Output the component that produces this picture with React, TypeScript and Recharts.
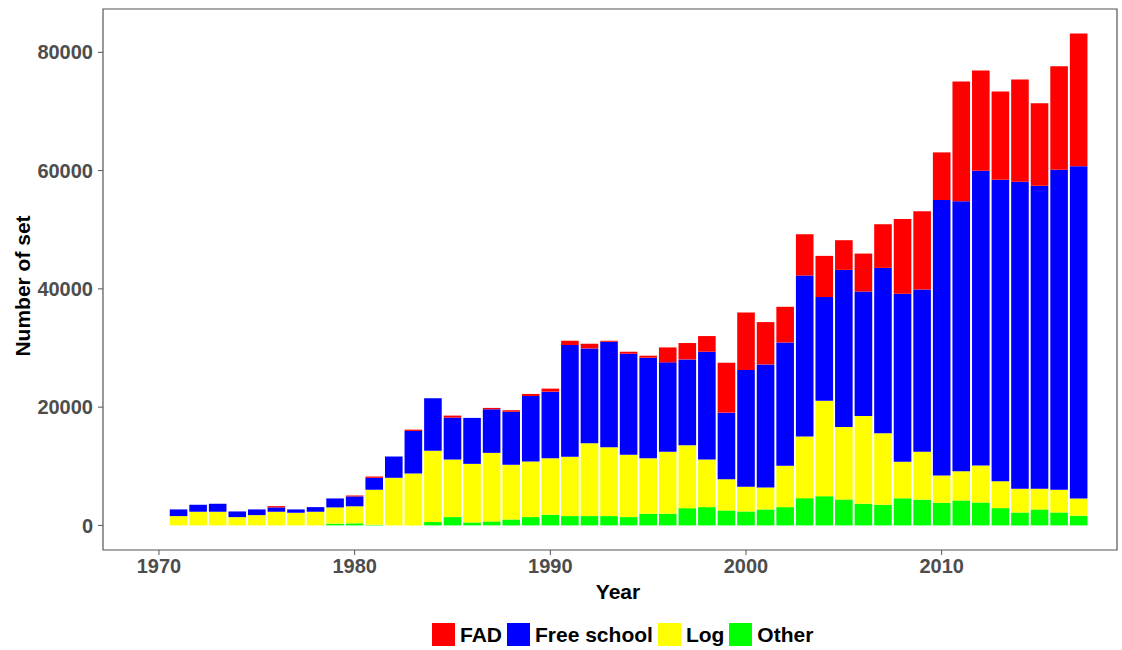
import React from 'react';
import { BarChart, Bar, XAxis, YAxis, ReferenceArea } from 'recharts';

const years = [
  1971, 1972, 1973, 1974, 1975, 1976, 1977, 1978, 1979, 1980,
  1981, 1982, 1983, 1984, 1985, 1986, 1987, 1988, 1989, 1990,
  1991, 1992, 1993, 1994, 1995, 1996, 1997, 1998, 1999, 2000,
  2001, 2002, 2003, 2004, 2005, 2006, 2007, 2008, 2009, 2010,
  2011, 2012, 2013, 2014, 2015, 2016, 2017,
];

const other = [
  0, 0, 0, 0, 0, 0, 0, 0, 300, 350,
  100, 0, 0, 560, 1400, 500, 680, 1010, 1400, 1800,
  1570, 1570, 1570, 1400, 1970, 1970, 2920, 3090, 2530, 2360,
  2700, 3090, 4610, 4950, 4390, 3660, 3490, 4590, 4360, 3830,
  4220, 3880, 2920, 2190, 2700, 2190, 1640,
];

const log = [
  1570, 2310, 2310, 1400, 1740, 2310, 2140, 2310, 2740, 2880,
  5930, 8050, 8780, 12050, 9740, 9910, 11590, 9240, 9400, 9560,
  10030, 12330, 11650, 10530, 9390, 10470, 10630, 8050, 5290, 4190,
  3710, 6990, 10410, 16150, 12270, 14860, 12090, 6160, 8110, 4610,
  4950, 6250, 4560, 4000, 3490, 3830, 2920,
];

const freeSchool = [
  1130, 1180, 1350, 960, 960, 730, 560, 780, 1520, 1670,
  2020, 3600, 7200, 8880, 7090, 7770, 7370, 8990, 11090, 11260,
  18900, 16030, 17840, 17100, 17000, 15130, 14520, 18230, 11250, 19730,
  20820, 20860, 27230, 17510, 26550, 21030, 27970, 28410, 27420, 46590,
  45630, 49850, 50980, 51930, 51250, 54130, 56160,
];

const fad = [
  0, 0, 0, 0, 0, 220, 0, 0, 0, 160,
  220, 0, 220, 0, 340, 0, 230, 230, 340, 510,
  730, 790, 170, 340, 340, 2530, 2770, 2650, 8440, 9720,
  7150, 6030, 6990, 6970, 5020, 6420, 7380, 12660, 13230, 8050,
  20260, 16940, 14910, 17280, 13960, 17500, 22450,
];

const xTicks = [1970, 1980, 1990, 2000, 2010];
const yTicks = [0, 20000, 40000, 60000, 80000];

const xDomain: [number, number] = [1967.14, 2018.96];
const yDomain: [number, number] = [-4160, 87330];

const legendItems = [
  { name: 'FAD', color: '#FF0000' },
  { name: 'Free school', color: '#0000FF' },
  { name: 'Log', color: '#FFFF00' },
  { name: 'Other', color: '#00FF00' },
];

const data = years.map((year, i) => ({
  year,
  other: other[i],
  log: log[i],
  free: freeSchool[i],
  fad: fad[i],
}));

const tickStyle = { fill: '#4d4d4d', fontSize: 20, fontWeight: 'bold' as const };

function YTitle() {
  return (
    <text
      x={22}
      y={286}
      transform="rotate(-90 22 286)"
      textAnchor="middle"
      dominantBaseline="central"
      fontSize={21}
      fontWeight="bold"
      fill="#000"
    >
      Number of set
    </text>
  );
}

function XTitle() {
  return (
    <text x={618} y={591} textAnchor="middle" dominantBaseline="central" fontSize={21} fontWeight="bold" fill="#000">
      Year
    </text>
  );
}

export default function App() {
  return (
    <div style={{ position: 'absolute', left: 0, top: 0, width: 1122, height: 650, background: '#fff', fontFamily: '"Liberation Sans", Arial, sans-serif' }}>
      <BarChart width={1122} height={650} data={data} margin={{ top: 9, right: 5, left: 0, bottom: 0 }} barSize={17.6}>
        <XAxis
          dataKey="year"
          type="number"
          domain={xDomain}
          ticks={xTicks}
          allowDataOverflow
          height={100}
          axisLine={false}
          tickLine={{ stroke: '#555' }}
          tickSize={5}
          tickMargin={4}
          tick={tickStyle}
          label={<XTitle />}
        />
        <YAxis
          type="number"
          domain={yDomain}
          ticks={yTicks}
          allowDataOverflow
          width={103}
          axisLine={false}
          tickLine={{ stroke: '#555' }}
          tickSize={5}
          tickMargin={5}
          tick={tickStyle}
          label={<YTitle />}
        />
        <Bar dataKey="other" stackId="a" fill="#00FF00" isAnimationActive={false} />
        <Bar dataKey="log" stackId="a" fill="#FFFF00" isAnimationActive={false} />
        <Bar dataKey="free" stackId="a" fill="#0000FF" isAnimationActive={false} />
        <Bar dataKey="fad" stackId="a" fill="#FF0000" isAnimationActive={false} />
        <ReferenceArea
          x1={xDomain[0]}
          x2={xDomain[1]}
          y1={yDomain[0]}
          y2={yDomain[1]}
          fill="none"
          stroke="#555"
          strokeWidth={1.2}
          ifOverflow="visible"
        />
      </BarChart>
      <div style={{ position: 'absolute', left: 432, top: 623, display: 'flex', alignItems: 'center', fontSize: 21, fontWeight: 'bold', color: '#000' }}>
        {legendItems.map((item) => (
          <div key={item.name} style={{ display: 'flex', alignItems: 'center', marginRight: 5 }}>
            <span style={{ display: 'inline-block', width: 23, height: 23, background: item.color, marginRight: 5 }} />
            <span style={{ lineHeight: '23px' }}>{item.name}</span>
          </div>
        ))}
      </div>
    </div>
  );
}
